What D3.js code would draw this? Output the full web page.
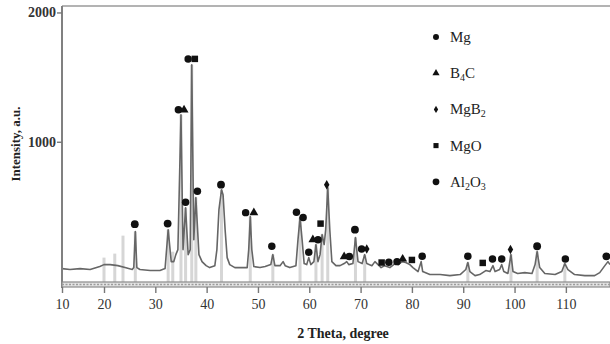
<!DOCTYPE html>
<html>
<head>
<meta charset="utf-8">
<script src="https://cdn.jsdelivr.net/npm/d3@7"></script>
<style>
  body { margin: 0; background: #fff; }
  svg { display: block; font-family: "Liberation Serif", "DejaVu Serif", serif; }
</style>
</head>
<body>
<div id="chart"></div>
<script>
// XRD pattern: [2theta, intensity]
let pattern = [
  [10.0, 19], [11.9, 12], [14.3, 19], [16.7, 12], [19.0, 35], [20.0, 50], [21.2, 50], [22.7, 42],
  [24.1, 27], [25.5, 12], [25.8, 27], [26.1, 305], [26.4, 27], [27.0, 12], [29.0, 4], [30.9, 4],
  [31.9, 19], [32.5, 320], [33.1, 73], [33.6, 73], [34.0, 127], [34.4, 166], [35.0, 1208], [35.4, 166],
  [35.9, 490], [36.4, 127], [36.8, 166], [37.1, 1595], [37.5, 243], [37.9, 568], [38.5, 127], [39.1, 73],
  [39.9, 42], [40.6, 27], [41.6, 42], [42.0, 166], [42.4, 475], [42.9, 629], [43.2, 591], [43.6, 320],
  [44.0, 104], [44.5, 50], [45.5, 27], [46.5, 27], [47.9, 27], [48.2, 166], [48.5, 421], [48.8, 166],
  [49.2, 35], [50.4, 27], [51.4, 35], [52.5, 50], [52.9, 127], [53.3, 42], [54.3, 42], [54.9, 73],
  [55.3, 42], [56.2, 27], [57.4, 42], [57.8, 243], [58.2, 413], [58.6, 243], [59.0, 58], [59.5, 50],
  [59.9, 104], [60.3, 50], [60.9, 73], [61.3, 205], [61.7, 73], [62.1, 127], [62.5, 282], [62.9, 205],
  [63.2, 320], [63.6, 645], [64.0, 320], [64.4, 73], [65.2, 42], [66.0, 42], [66.8, 58], [67.3, 73],
  [67.7, 50], [68.5, 58], [69.0, 259], [69.5, 73], [70.3, 58], [70.8, 127], [71.2, 58], [72.2, 42],
  [72.8, 73], [73.4, 50], [74.0, 27], [74.7, 42], [75.7, 27], [76.7, 58], [77.3, 50], [78.1, 73],
  [78.8, 66], [79.6, 50], [80.2, 27], [81.2, -4], [81.8, 73], [82.1, -4], [83.5, -27], [85.5, -27],
  [87.4, -35], [89.4, -27], [90.5, 12], [90.9, 66], [91.3, -4], [92.3, -35], [93.2, -27], [94.4, 4],
  [95.2, -4], [95.8, 42], [96.2, -4], [97.1, 12], [97.5, 50], [97.9, -4], [98.7, -19], [99.3, 127],
  [99.7, -4], [100.6, -19], [102.0, -12], [103.4, -19], [104.0, 50], [104.4, 151], [104.9, 27], [105.9, -19],
  [107.9, -27], [109.2, -4], [109.8, 58], [110.4, 12], [111.7, -27], [113.7, -35], [115.6, -35], [116.6, -12],
  [117.6, 42], [118.2, 73], [118.6, 50]
];

// light grey reference sticks: [2theta, intensity]
let refLines = [
  [20.0, 104], [22.1, 135], [23.7, 274], [26.1, 305], [32.5, 320], [33.4, 150], [35.0, 1208], [35.9, 490],
  [37.1, 1595], [37.9, 568], [42.9, 629], [48.5, 421], [52.9, 127], [58.2, 413], [61.3, 205], [62.5, 282],
  [63.6, 645], [69.0, 259], [70.8, 127], [90.9, 66], [99.3, 127], [104.4, 151], [109.8, 58]
];

// phase markers: [2theta, intensity, phase]
let markers = [
  [26.0, 363, "Al2O3"], [32.4, 367, "Al2O3"], [34.5, 1247, "Mg"], [35.6, 1247, "B4C"], [35.9, 533, "Mg"],
  [36.4, 1641, "Mg"], [37.7, 1641, "MgO"], [38.2, 618, "Mg"], [42.8, 668, "Al2O3"], [47.6, 452, "Mg"],
  [49.2, 452, "B4C"], [52.7, 192, "Mg"], [57.5, 454, "Mg"], [58.8, 415, "Mg"], [59.9, 145, "Mg"],
  [60.7, 243, "B4C"], [61.7, 243, "Mg"], [62.2, 367, "MgO"], [63.4, 668, "MgB2"], [66.8, 112, "B4C"],
  [67.8, 112, "Mg"], [68.9, 320, "Al2O3"], [70.2, 171, "Mg"], [71.2, 171, "MgB2"], [74.1, 66, "MgO"],
  [75.5, 68, "Mg"], [77.1, 73, "Mg"], [78.2, 93, "B4C"], [80.0, 86, "MgO"], [82.0, 114, "Mg"],
  [90.9, 114, "Mg"], [93.8, 63, "MgO"], [95.7, 94, "Mg"], [97.5, 94, "Mg"], [99.2, 166, "MgB2"],
  [104.4, 192, "Al2O3"], [109.9, 94, "Mg"], [117.9, 114, "Al2O3"]
];

let phases = ["Mg", "B4C", "MgB2", "MgO", "Al2O3"];
let xTicks = [10, 20, 30, 40, 50, 60, 70, 80, 90, 100, 110];
let yTicks = [1000, 2000];

let svgWidth = 610;
let svgHeight = 344;
let margin = {top: 6, right: 0, bottom: 60, left: 62};
let width = svgWidth - margin.left - margin.right;
let height = svgHeight - margin.top - margin.bottom;

let svg = d3.select("#chart").append("svg")
  .attr("width", svgWidth)
  .attr("height", svgHeight);

let g = svg.append("g")
  .attr("transform", `translate(${margin.left}, ${margin.top})`);

// the 10-20 stretch of the original axis is shorter than the others
let x = d3.scaleLinear()
  .domain([10, 20, 118.6])
  .range([0, 42, width]);

let y = d3.scaleLinear()
  .domain([-100, 2050])
  .range([height, 0]);

// symbol shapes per phase
let shapes = {Mg: d3.symbolCircle, B4C: d3.symbolTriangle, MgB2: d3.symbolDiamond, MgO: d3.symbolSquare, Al2O3: d3.symbolCircle};
let plotSizes = {Mg: 44, B4C: 34, MgB2: 26, MgO: 42, Al2O3: 48};
let legendSizes = {Mg: 28, B4C: 22, MgB2: 16, MgO: 26, Al2O3: 36};

// reference sticks
g.append("g")
  .selectAll("rect")
  .data(refLines)
  .enter()
  .append("rect")
  .attr("x", d => x(d[0]) - 1.5)
  .attr("width", 3)
  .attr("y", d => y(d[1]))
  .attr("height", d => height - y(d[1]))
  .attr("fill", "#d6d6d6");

// pattern line
let line = d3.line()
  .x(d => x(d[0]))
  .y(d => y(d[1]));

g.append("path")
  .datum(pattern)
  .attr("d", line)
  .attr("fill", "none")
  .attr("stroke", "#666")
  .attr("stroke-width", 1.6)
  .attr("stroke-linejoin", "round");

// markers
g.append("g")
  .selectAll("path")
  .data(markers)
  .enter()
  .append("path")
  .attr("transform", d => `translate(${x(d[0])}, ${y(d[1])})`)
  .attr("d", d => d3.symbol().type(shapes[d[2]]).size(plotSizes[d[2]])())
  .attr("fill", "#111");

// frame: left axis + top line
g.append("line")
  .attr("x1", 0).attr("x2", width)
  .attr("y1", 0).attr("y2", 0)
  .attr("stroke", "#9a9a9a")
  .attr("stroke-width", 1.6);

g.append("line")
  .attr("x1", 0).attr("x2", 0)
  .attr("y1", 0).attr("y2", height + 4)
  .attr("stroke", "#808080")
  .attr("stroke-width", 2);

// bottom strip of the x axis
let strip = g.append("g").attr("transform", `translate(0, ${height - 2})`);
strip.append("rect")
  .attr("x", 0).attr("width", width)
  .attr("y", 0).attr("height", 5)
  .attr("fill", "#e4e4e4")
  .attr("stroke", "#8a8a8a")
  .attr("stroke-width", 1.2);
strip.append("line")
  .attr("x1", 0).attr("x2", width)
  .attr("y1", 2.5).attr("y2", 2.5)
  .attr("stroke", "#9c9c9c")
  .attr("stroke-width", 1.4)
  .attr("stroke-dasharray", "2,1.5");

// x axis
let xAxis = g.append("g")
  .attr("transform", `translate(0, ${height + 3})`)
  .call(d3.axisBottom(x).tickValues(xTicks).tickSize(6).tickPadding(6));
xAxis.select(".domain").remove();
xAxis.selectAll(".tick line").attr("stroke", "#777").attr("stroke-width", 1.4);
xAxis.selectAll("text")
  .attr("font-family", "Liberation Serif, serif")
  .attr("font-size", 14)
  .attr("fill", "#333");

// y axis
let yAxis = g.append("g")
  .call(d3.axisLeft(y).tickValues(yTicks).tickSize(5).tickPadding(1).tickFormat(d3.format("d")));
yAxis.select(".domain").remove();
yAxis.selectAll(".tick line").attr("stroke", "#777").attr("stroke-width", 1.4);
yAxis.selectAll("text")
  .attr("font-family", "Liberation Serif, serif")
  .attr("font-size", 14)
  .attr("font-weight", "bold")
  .attr("fill", "#333");

// axis titles
svg.append("text")
  .attr("transform", "rotate(-90)")
  .attr("x", -144)
  .attr("y", 20)
  .attr("text-anchor", "middle")
  .attr("font-size", 13)
  .attr("font-weight", "bold")
  .attr("fill", "#222")
  .text("Intensity, a.u.");

svg.append("text")
  .attr("x", 343)
  .attr("y", 338)
  .attr("text-anchor", "middle")
  .attr("font-size", 14)
  .attr("font-weight", "bold")
  .attr("fill", "#222")
  .text("2 Theta, degree");

// legend
let legend = svg.append("g").attr("transform", "translate(436, 37)");
phases.forEach((p, i) => {
  let row = legend.append("g").attr("transform", `translate(0, ${i * 36.2})`);
  row.append("path")
    .attr("d", d3.symbol().type(shapes[p]).size(legendSizes[p])())
    .attr("fill", "#111");
  let t = row.append("text")
    .attr("x", 14)
    .attr("y", 5)
    .attr("font-size", 15)
    .attr("fill", "#222");
  // digits become subscripts
  let lowered = false;
  p.match(/[A-Za-z]+|\d+/g).forEach(part => {
    if (/\d/.test(part)) {
      t.append("tspan").attr("dy", 3).attr("font-size", 10).text(part);
      lowered = true;
    } else {
      t.append("tspan").attr("dy", lowered ? -3 : 0).text(part);
      lowered = false;
    }
  });
});
</script>
</body>
</html>
